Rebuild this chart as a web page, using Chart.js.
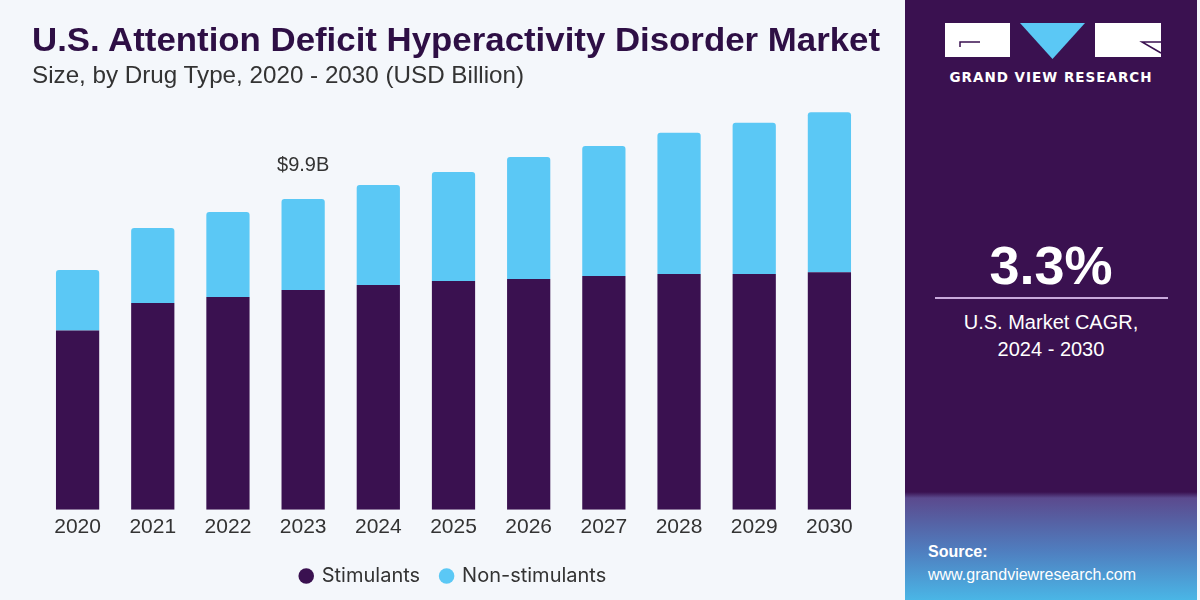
<!DOCTYPE html>
<html lang="en">
<head>
  <meta charset="UTF-8">
  <title>U.S. ADHD Market</title>
  <script src="https://cdn.jsdelivr.net/npm/chart.js"></script>
  <style>
    html, body { margin: 0; padding: 0; }
    body { width: 1200px; height: 600px; position: relative; overflow: hidden; background: #f4f7fb; font-family: "Liberation Sans", Arial, sans-serif; }
    #chart-wrap { position: absolute; left: 0; top: 0; width: 900px; height: 600px; }
    .fit { position: absolute; white-space: nowrap; transform-origin: 0 0; }
    #title { left: 32px; top: 21px; font: bold 33px "Liberation Sans", Arial, sans-serif; color: #2e0f45; }
    #subtitle { left: 32px; top: 61px; font: 24px "Liberation Sans", Arial, sans-serif; color: #333; }
    #panel { position: absolute; left: 905px; top: 0; width: 292px; height: 600px;
      background: linear-gradient(to bottom, #3a1150 0%, #3a1150 82%, #5b4a8e 83%, #4f7fc0 92%, #4ab6e6 100%); }
    #panel .c { position: absolute; left: 0; width: 292px; text-align: center; color: #fff; }
  </style>
</head>
<body>
  <div id="chart-wrap"><canvas id="chart" width="900" height="600"></canvas></div>
  <div id="title" class="fit" data-w="848">U.S. Attention Deficit Hyperactivity Disorder Market</div>
  <div id="subtitle" class="fit" data-w="492">Size, by Drug Type, 2020 - 2030 (USD Billion)</div>

  <div id="panel">
    <svg width="292" height="70" style="position:absolute;left:0;top:20px">
      <rect x="40" y="3" width="65" height="34" fill="#fff"/>
      <polyline points="75,22 55,22 55,27" fill="none" stroke="#3a1150" stroke-width="1.5"/>
      <polygon points="115,3 180,3 147.5,39" fill="#5bc8f5"/>
      <rect x="190" y="3" width="66" height="34" fill="#fff"/>
      <polyline points="256,22 237,22 256,33" fill="none" stroke="#3a1150" stroke-width="1.5"/>
    </svg>
    <div class="c" style="top:69px;font:bold 13.5px 'DejaVu Sans', sans-serif;letter-spacing:1px;">GRAND VIEW RESEARCH</div>
    <div class="c" style="top:234px;font:bold 54px 'Liberation Sans', Arial, sans-serif;">3.3%</div>
    <div style="position:absolute;left:30px;top:297px;width:233px;height:2px;background:#c9a9dc;"></div>
    <div class="c" style="top:309px;font:20px 'Liberation Sans', Arial, sans-serif;line-height:27px;">U.S. Market CAGR,<br>2024 - 2030</div>
    <div style="position:absolute;left:23px;top:543px;color:#fff;font:bold 16px 'Liberation Sans', Arial, sans-serif;">Source:</div>
    <div style="position:absolute;left:23px;top:566px;color:#fff;font:16px 'Liberation Sans', Arial, sans-serif;">www.grandviewresearch.com</div>
  </div>

  <script>
    // chart data (USD Billion)
    const years = ['2020', '2021', '2022', '2023', '2024', '2025', '2026', '2027', '2028', '2029', '2030'];
    const stimulants = [5.71, 6.59, 6.78, 7.00, 7.16, 7.29, 7.35, 7.45, 7.51, 7.51, 7.57];
    const nonStimulants = [1.93, 2.39, 2.71, 2.90, 3.19, 3.47, 3.89, 4.14, 4.50, 4.82, 5.09];
    const highlightIndex = 3;
    const highlightLabel = '$9.9B';

    // squeeze the condensed headings to their widths
    document.querySelectorAll('.fit').forEach(el => {
      const w = el.getBoundingClientRect().width;
      el.style.transform = 'scaleX(' + (el.dataset.w / w) + ')';
    });

    const totalLabel = {
      id: 'totalLabel',
      afterDatasetsDraw(chart) {
        const { ctx, scales } = chart;
        const x = scales.x.getPixelForValue(highlightIndex);
        const y = scales.y.getPixelForValue(stimulants[highlightIndex] + nonStimulants[highlightIndex]);
        ctx.save();
        ctx.font = '20px "Liberation Sans", Arial, sans-serif';
        ctx.fillStyle = '#333';
        ctx.textAlign = 'center';
        ctx.textBaseline = 'bottom';
        ctx.fillText(highlightLabel, x, y - 24);
        ctx.restore();
      }
    };

    const ctx = document.getElementById('chart').getContext('2d');
    new Chart(ctx, {
      type: 'bar',
      data: {
        labels: years,
        datasets: [{
          label: 'Stimulants',
          data: stimulants,
          backgroundColor: '#3a1150',
          borderSkipped: false,
          borderRadius: 0
        }, {
          label: 'Non-stimulants',
          data: nonStimulants,
          backgroundColor: '#5bc8f5',
          borderRadius: { topLeft: 3, topRight: 3, bottomLeft: 0, bottomRight: 0 },
          borderSkipped: false
        }]
      },
      options: {
        responsive: false,
        animation: false,
        datasets: { bar: { categoryPercentage: 1, barPercentage: 0.575 } },
        layout: { padding: { left: 40, right: 33, top: 86, bottom: 4 } },
        scales: {
          x: {
            stacked: true,
            grid: { display: false, drawTicks: false },
            border: { display: false },
            ticks: { color: '#333', font: { size: 21, family: '"Liberation Sans", Arial, sans-serif' }, padding: 5 }
          },
          y: { stacked: true, display: false, min: 0, max: 13.5 }
        },
        plugins: {
          tooltip: { enabled: false },
          legend: {
            position: 'bottom',
            labels: {
              usePointStyle: true,
              pointStyle: 'circle',
              boxWidth: 11,
              boxHeight: 11,
              padding: 21,
              color: '#333',
              font: { size: 20, family: 'Inter, "Liberation Sans", sans-serif' }
            }
          }
        }
      },
      plugins: [totalLabel]
    });
  </script>
</body>
</html>
